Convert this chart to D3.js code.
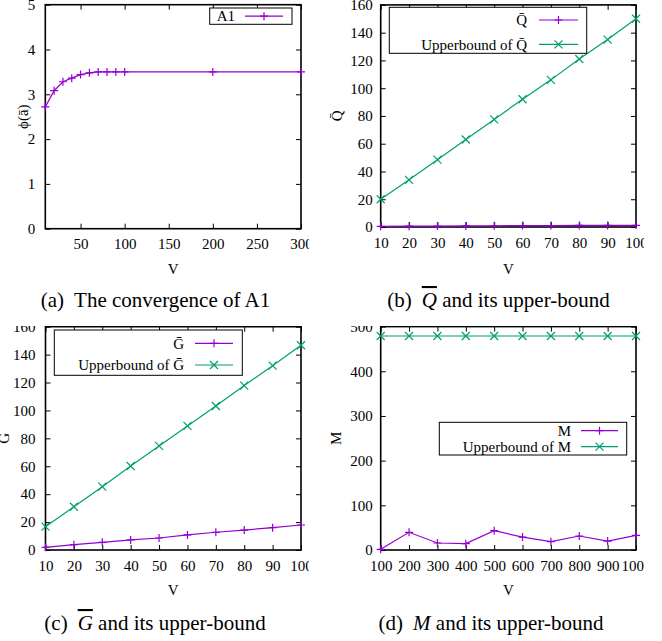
<!DOCTYPE html>
<html lang="en">
<head>
<meta charset="utf-8" />
<title>Convergence and upper bounds</title>
<script src="https://cdn.jsdelivr.net/npm/d3@7"></script>
<style>
    body { margin: 0; background: #fff; }
    svg text { font-family: "Liberation Serif", "Times New Roman", serif; fill: #000; }
    .tick line { stroke: #000; stroke-width: 1; }
</style>
</head>
<body>
<svg id="canvas" width="662" height="641" xmlns="http://www.w3.org/2000/svg"></svg>
<script>
// ---- data ----
var vA = [10, 20, 30, 40, 50, 60, 70, 80, 90, 100, 200, 300];
var phiA1 = [2.72, 3.08, 3.28, 3.36, 3.44, 3.48, 3.5, 3.5, 3.5, 3.5, 3.5, 3.5];

var vQ = [10, 20, 30, 40, 50, 60, 70, 80, 90, 100];
var qBar = [0.5, 0.6, 0.7, 0.8, 0.9, 1.0, 1.0, 1.1, 1.1, 1.2];
var qUpper = [20, 34, 48.5, 63, 77.5, 92, 106, 121, 135, 150];

var vG = [10, 20, 30, 40, 50, 60, 70, 80, 90, 100];
var gBar = [1.9, 3.8, 5.5, 7.2, 8.6, 10.8, 12.7, 14.3, 16, 17.9];
var gUpper = [16.7, 31, 45.4, 60.2, 74.6, 88.9, 103.2, 117.8, 132.1, 146.7];

var vM = [100, 200, 300, 400, 500, 600, 700, 800, 900, 1000];
var mVal = [1.5, 39.6, 15.7, 14.2, 43.2, 29, 18.6, 31.3, 20, 32.8];
var mUpper = [479, 479, 479, 479, 479, 479, 479, 479, 479, 479];

var xTicksA = [50, 100, 150, 200, 250, 300];
var yTicksA = [0, 1, 2, 3, 4, 5];
var xTicksQG = [10, 20, 30, 40, 50, 60, 70, 80, 90, 100];
var yTicksQG = [0, 20, 40, 60, 80, 100, 120, 140, 160];
var xTicksM = [100, 200, 300, 400, 500, 600, 700, 800, 900, 1000];
var yTicksM = [0, 100, 200, 300, 400, 500];

var PURPLE = "#9400d3", GREEN = "#009e73";
var PLUS = "M-4,0H4M0,-4V4", CROSS = "M-4,-4L4,4M-4,4L4,-4";
var SERIF = "'Liberation Serif', 'Times New Roman', serif";

var svg = d3.select("#canvas");
var defs = svg.append("defs");

function drawPanel(cfg) {
    var clipId = "clip-" + cfg.id;
    defs.append("clipPath").attr("id", clipId)
        .append("rect")
        .attr("x", cfg.clip[0]).attr("y", cfg.clip[1])
        .attr("width", cfg.clip[2] - cfg.clip[0])
        .attr("height", cfg.clip[3] - cfg.clip[1]);
    var g = svg.append("g").attr("clip-path", "url(#" + clipId + ")");

    var p = cfg.plot;
    var x = d3.scaleLinear().domain(cfg.xDomain).range([p.l, p.r]);
    var y = d3.scaleLinear().domain(cfg.yDomain).range([p.b, p.t]);

    function styleAxis(sel) {
        sel.attr("font-family", SERIF).attr("font-size", 15);
        sel.select(".domain").remove();
        sel.selectAll("text").style("font-size", "15px").style("font-family", SERIF);
    }

    g.append("g").attr("transform", "translate(0," + p.b + ")")
        .call(d3.axisBottom(x).tickValues(cfg.xTicks).tickSize(-5).tickPadding(10).tickFormat(d3.format("d")))
        .call(styleAxis);
    g.append("g").attr("transform", "translate(0," + p.t + ")")
        .call(d3.axisTop(x).tickValues(cfg.xTicks).tickSize(-5).tickFormat(""))
        .call(styleAxis);
    g.append("g").attr("transform", "translate(" + p.l + ",0)")
        .call(d3.axisLeft(y).tickValues(cfg.yTicks).tickSize(-5).tickPadding(cfg.yPad).tickFormat(d3.format("d")))
        .call(styleAxis);
    g.append("g").attr("transform", "translate(" + p.r + ",0)")
        .call(d3.axisRight(y).tickValues(cfg.yTicks).tickSize(-5).tickFormat(""))
        .call(styleAxis);

    g.append("rect")
        .attr("x", p.l).attr("y", p.t)
        .attr("width", p.r - p.l).attr("height", p.b - p.t)
        .attr("fill", "none").attr("stroke", "#000").attr("stroke-width", 1.6);

    // series
    var line = d3.line().x(function (d) { return x(d[0]); }).y(function (d) { return y(d[1]); });
    cfg.series.forEach(function (s) {
        var pts = s.x.map(function (v, i) { return [v, s.y[i]]; });
        g.append("path").datum(pts)
            .attr("d", line)
            .attr("fill", "none").attr("stroke", s.color).attr("stroke-width", 1.2);
        g.selectAll(null).data(pts).enter().append("path")
            .attr("transform", function (d) { return "translate(" + x(d[0]) + "," + y(d[1]) + ")"; })
            .attr("d", s.marker)
            .attr("fill", "none").attr("stroke", s.color).attr("stroke-width", 1.2);
    });

    // legend
    var lg = cfg.legend;
    g.append("rect")
        .attr("x", lg.box[0]).attr("y", lg.box[1])
        .attr("width", lg.box[2] - lg.box[0]).attr("height", lg.box[3] - lg.box[1])
        .attr("fill", "#fff").attr("stroke", "#000").attr("stroke-width", 1);
    cfg.series.forEach(function (s, i) {
        var ry = lg.rows[i];
        g.append("text")
            .attr("x", lg.textRight).attr("y", ry).attr("dy", "0.35em")
            .attr("text-anchor", "end").style("font-size", "15px")
            .text(s.name);
        g.append("line")
            .attr("x1", lg.sample[0]).attr("x2", lg.sample[1])
            .attr("y1", ry).attr("y2", ry)
            .attr("stroke", s.color).attr("stroke-width", 1.2);
        g.append("path")
            .attr("transform", "translate(" + (lg.sample[0] + lg.sample[1]) / 2 + "," + ry + ")")
            .attr("d", s.marker)
            .attr("fill", "none").attr("stroke", s.color).attr("stroke-width", 1.2);
    });

    // axis labels
    g.append("text")
        .attr("x", (p.l + p.r) / 2).attr("y", cfg.xLabelY)
        .attr("text-anchor", "middle").style("font-size", "15px")
        .text("V");
    g.append("text")
        .attr("transform", "translate(" + cfg.yLabelX + "," + (p.t + p.b) / 2 + ") rotate(-90)")
        .attr("text-anchor", "middle").attr("dy", "0.35em").style("font-size", "15px")
        .text(cfg.yLabel);

    // caption
    var cap = g.append("text")
        .attr("x", cfg.caption.x).attr("y", cfg.caption.y)
        .attr("text-anchor", "middle").style("font-size", "21px");
    cap.append("tspan").text(cfg.caption.tag);
    var m = cap.append("tspan").attr("dx", 10).text(cfg.caption.sym)
        .style("font-style", cfg.caption.italic ? "italic" : "normal");
    if (cfg.caption.over) m.style("text-decoration", "overline");
    cap.append("tspan").text(cfg.caption.rest);
}

drawPanel({
    id: "a", clip: [0, 0, 309, 318],
    plot: { l: 45.3, r: 301, t: 4.7, b: 228.7 },
    xDomain: [10, 300], yDomain: [0, 5], xTicks: xTicksA, yTicks: yTicksA, yPad: 10,
    yLabel: "ϕ(ā)", yLabelX: 23, xLabelY: 274,
    series: [{ name: "A1", x: vA, y: phiA1, color: PURPLE, marker: PLUS }],
    legend: { box: [209.7, 8, 292, 24.3], rows: [16.2], textRight: 235, sample: [245, 283] },
    caption: { x: 155.5, y: 307, tag: "(a)", sym: "The", rest: " convergence of A1" }
});

drawPanel({
    id: "b", clip: [320, 0, 644, 318],
    plot: { l: 380.7, r: 636, t: 4.9, b: 227 },
    xDomain: [10, 100], yDomain: [0, 160], xTicks: xTicksQG, yTicks: yTicksQG, yPad: 8,
    yLabel: "Q\u0304", yLabelX: 337, xLabelY: 274,
    series: [
        { name: "Q\u0304", x: vQ, y: qBar, color: PURPLE, marker: PLUS },
        { name: "Upperbound of Q\u0304", x: vQ, y: qUpper, color: GREEN, marker: CROSS }
    ],
    legend: { box: [389.3, 7.3, 586.7, 53.3], rows: [20, 44.3], textRight: 527, sample: [539, 578] },
    caption: { x: 498.5, y: 307, tag: "(b)", sym: "Q", italic: true, over: true, rest: " and its upper-bound" }
});

drawPanel({
    id: "c", clip: [0, 326, 309, 641],
    plot: { l: 45.5, r: 301, t: 326.7, b: 550 },
    xDomain: [10, 100], yDomain: [0, 160], xTicks: xTicksQG, yTicks: yTicksQG, yPad: 10,
    yLabel: "G\u0304", yLabelX: 4, xLabelY: 595,
    series: [
        { name: "G\u0304", x: vG, y: gBar, color: PURPLE, marker: PLUS },
        { name: "Upperbound of G\u0304", x: vG, y: gUpper, color: GREEN, marker: CROSS }
    ],
    legend: { box: [54.3, 330, 242.3, 375.3], rows: [343.3, 365], textRight: 184, sample: [195, 233] },
    caption: { x: 155, y: 630, tag: "(c)", sym: "G", italic: true, over: true, rest: " and its upper-bound" }
});

drawPanel({
    id: "d", clip: [320, 326, 644, 641],
    plot: { l: 380.7, r: 636, t: 326.6, b: 550 },
    xDomain: [100, 1000], yDomain: [0, 500], xTicks: xTicksM, yTicks: yTicksM, yPad: 8,
    yLabel: "M", yLabelX: 336, xLabelY: 595,
    series: [
        { name: "M", x: vM, y: mVal, color: PURPLE, marker: PLUS },
        { name: "Upperbound of M", x: vM, y: mUpper, color: GREEN, marker: CROSS }
    ],
    legend: { box: [439.3, 422.3, 626.7, 455], rows: [430.7, 446.7], textRight: 571, sample: [581, 618] },
    caption: { x: 491, y: 630, tag: "(d)", sym: "M", italic: true, rest: " and its upper-bound" }
});
</script>
</body>
</html>
